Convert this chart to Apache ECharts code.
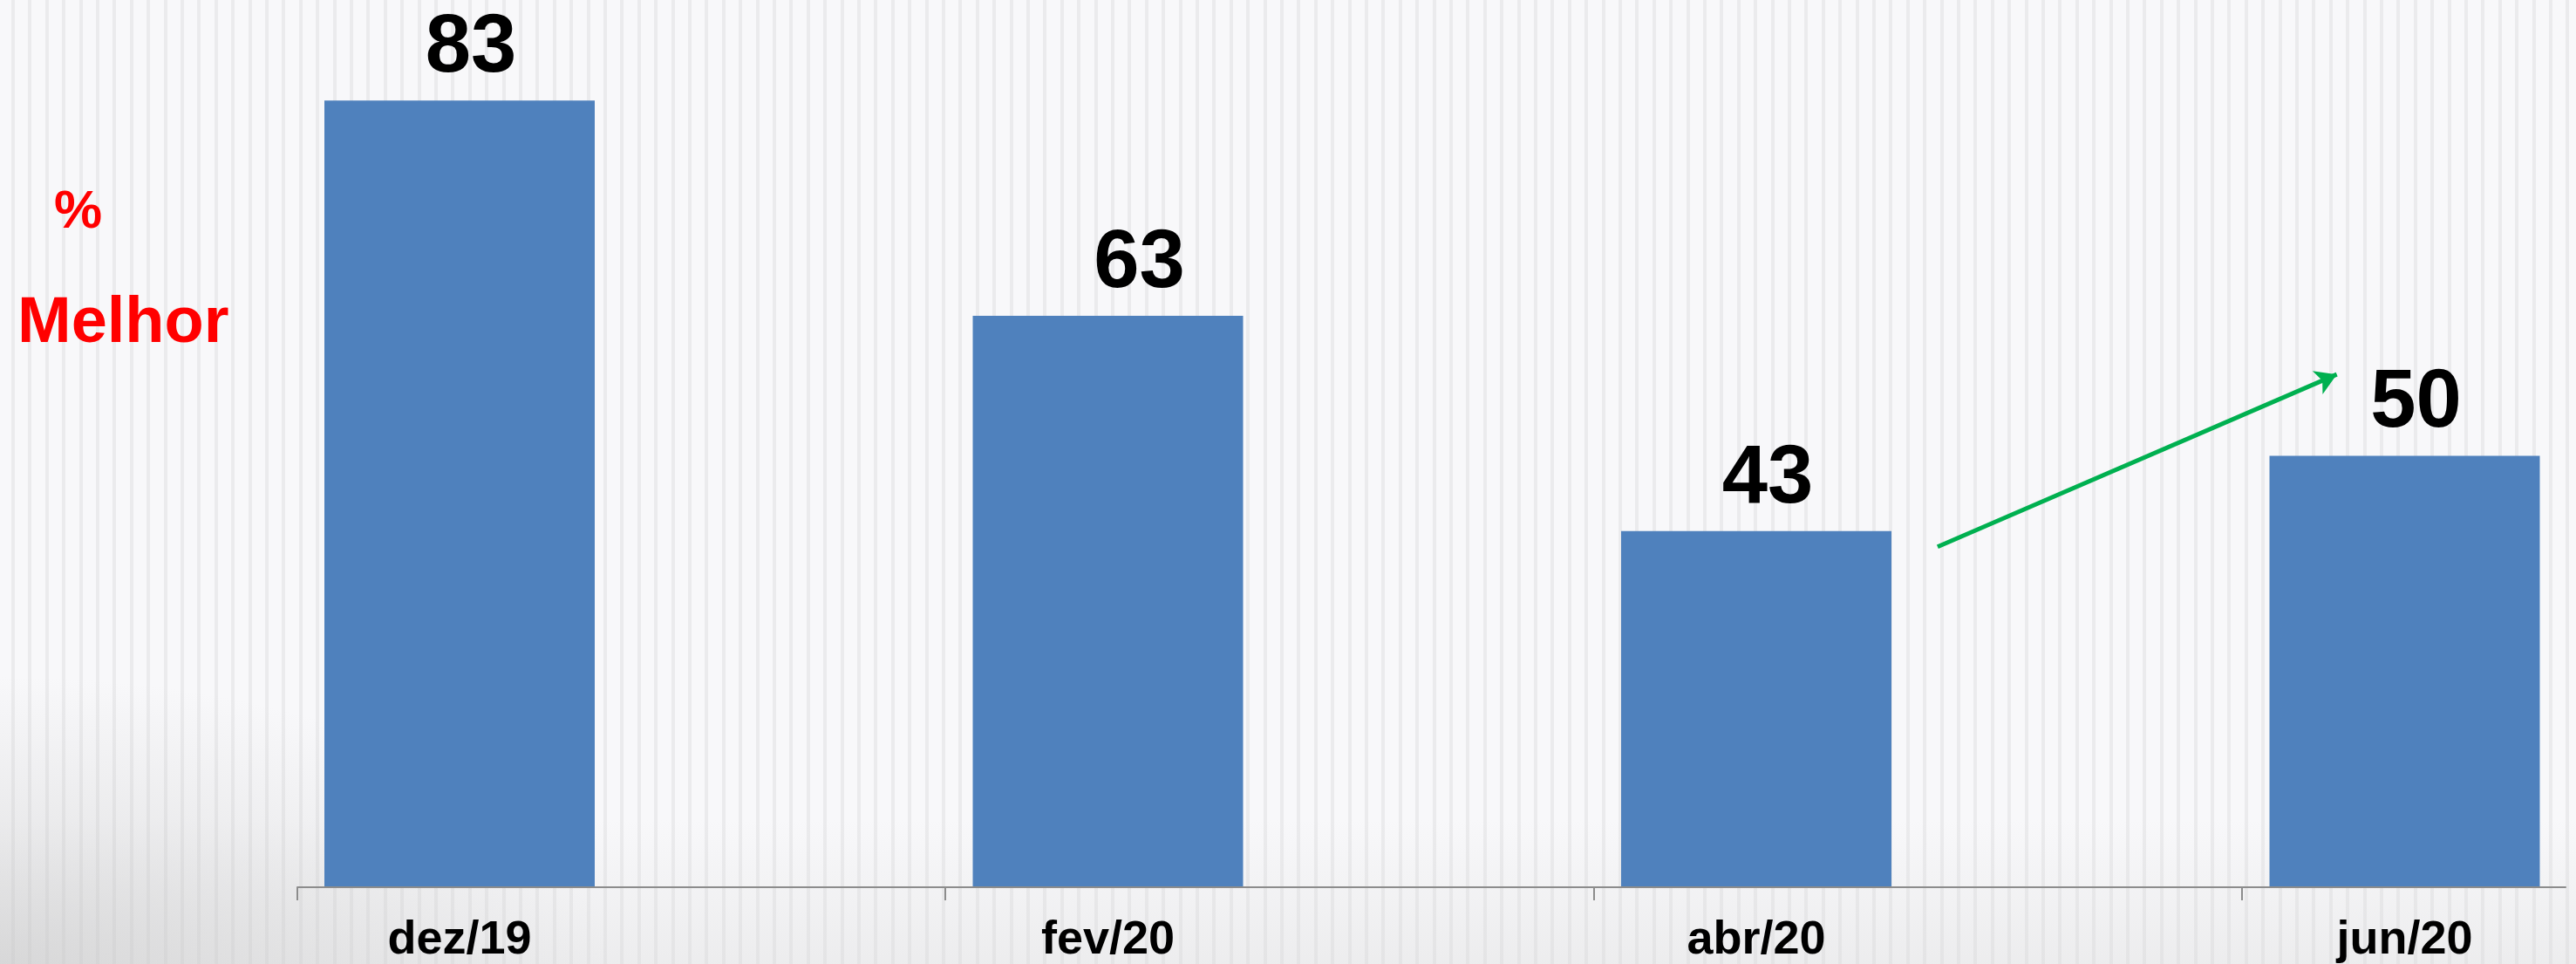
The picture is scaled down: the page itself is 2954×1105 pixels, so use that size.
<!DOCTYPE html>
<html>
<head>
<meta charset="utf-8">
<script src="https://cdn.jsdelivr.net/npm/echarts@6/dist/echarts.min.js"></script>
<style>
  html, body { margin: 0; padding: 0; width: 2954px; height: 1105px; overflow: hidden; }
  body {
    background:
      radial-gradient(ellipse 700px 330px at 0% 100%, rgba(190,190,190,0.45), rgba(190,190,190,0) 100%),
      linear-gradient(180deg, rgba(220,220,220,0) 85%, rgba(215,215,215,0.35) 100%),
      repeating-linear-gradient(90deg, #f8f8fa 0px, #f8f8fa 13px, #ebebed 13px, #ebebed 17px, #f8f8fa 17px, #f8f8fa 19.4px);
  }
  #chart { width: 2954px; height: 1105px; }
</style>
</head>
<body>
<div id="chart"></div>
<script>
// ---- data ----
const categories = ['dez/19', 'fev/20', 'abr/20', 'jun/20'];
const values = [83, 63, 43, 50];
const yMin = 10;
const yMax = 90;
// half-category slots along the baseline axis; separator ticks fall on the even slots
const baselineSlots = ['s0', 's1', 's2', 's3', 's4', 's5', 's6', 's7'];
// trend arrow (from the abr/20 bar towards jun/20), in data space of the separator axis / value axis
const arrowFrom = [2.531, 41.6];
const arrowTo = [3.147, 57.6];
const unitLabel = '%';
const sideLabel = 'Melhor';

// ---- styles ----
const labelShift = [[13, 0], [36, 0], [13, 0], [13, 0]];
const FONT = '"Liberation Sans", Arial, sans-serif';

const chart = echarts.init(document.getElementById('chart'), null, { renderer: 'canvas' });

const barData = values.map((v, i) => ({
  value: v,
  label: { offset: labelShift[i] }
}));

const option = {
  backgroundColor: 'transparent',
  animation: false,
  grid: [
    { left: 527, width: 2230.5, top: 29, bottom: 88, containLabel: false },
    { left: 341, width: 2601, top: 29, bottom: 88, containLabel: false }
  ],
  xAxis: [
    {
      type: 'category', gridIndex: 0, data: categories, boundaryGap: false,
      axisLine: { show: false }, axisTick: { show: false },
      axisLabel: { show: true, color: '#000', fontFamily: FONT, fontWeight: 'bold', fontSize: 54, margin: 35 },
      splitLine: { show: false }
    },
    {
      type: 'category', gridIndex: 1, data: baselineSlots, boundaryGap: false, position: 'bottom',
      axisLine: { show: true, lineStyle: { color: '#8c8c8c', width: 2 } },
      axisTick: { show: true, length: 15, interval: (idx) => idx % 2 === 0 && idx < 7,
                  lineStyle: { color: '#8c8c8c', width: 2 } },
      axisLabel: { show: false }, splitLine: { show: false }
    },
    {
      type: 'value', gridIndex: 1, min: 0, max: 3.5, position: 'top', show: false,
      splitLine: { show: false }
    }
  ],
  yAxis: [
    { type: 'value', gridIndex: 0, min: yMin, max: yMax, show: false, splitLine: { show: false } },
    { type: 'value', gridIndex: 1, min: yMin, max: yMax, show: false, splitLine: { show: false } }
  ],
  series: [
    {
      type: 'bar', xAxisIndex: 0, yAxisIndex: 0,
      data: barData,
      barWidth: 310,
      itemStyle: { color: '#4f81bd' },
      label: {
        show: true, position: 'top', distance: 12,
        color: '#000', fontFamily: FONT, fontWeight: 'bold', fontSize: 94
      }
    },
    {
      type: 'line', xAxisIndex: 2, yAxisIndex: 1, data: [], silent: true,
      markLine: {
        silent: true, animation: false,
        symbol: ['none', 'arrow'], symbolSize: [22, 24],
        label: { show: false },
        lineStyle: { color: '#00b050', width: 5, type: 'solid' },
        data: [[{ coord: arrowFrom }, { coord: arrowTo }]]
      }
    }
  ],
  graphic: [
    {
      type: 'text', left: 62, top: 213, silent: true,
      style: { text: unitLabel, fill: '#ff0000', font: 'bold 62px ' + FONT }
    },
    {
      type: 'text', left: 20, top: 335, silent: true,
      style: { text: sideLabel, fill: '#ff0000', font: 'bold 74px ' + FONT }
    }
  ]
};

chart.setOption(option);
</script>
</body>
</html>
